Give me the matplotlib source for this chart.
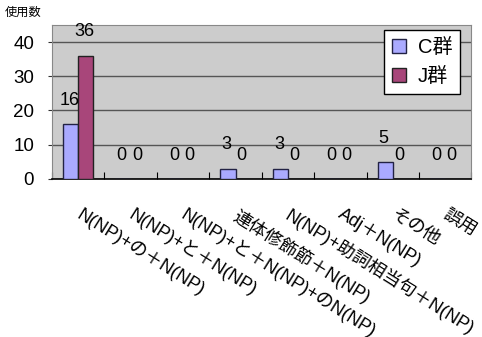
import matplotlib
matplotlib.use("Agg")
import matplotlib.pyplot as plt
import numpy as np
from matplotlib.patches import Patch
from matplotlib.transforms import offset_copy

plt.rcParams["font.family"] = ["Liberation Sans", "Noto Sans CJK JP", "DejaVu Sans"]

categories = [
    "N(NP)+の＋N(NP)",
    "N(NP)+と＋N(NP)",
    "N(NP)+と＋N(NP)+のN(NP)",
    "連体修飾節＋N(NP)",
    "N(NP)+助詞相当句＋N(NP)",
    "Adj＋N(NP)",
    "その他",
    "誤用",
]
c_counts = [16, 0, 0, 3, 3, 0, 5, 0]
j_counts = [36, 0, 0, 0, 0, 0, 0, 0]
series_names = ["C群", "J群"]
y_ticks = [0, 10, 20, 30, 40]

c_color = "#AAAAFF"
j_color = "#A8467A"

fig = plt.figure(figsize=(4.82, 3.37), dpi=100)
ax = fig.add_axes([0.108, 0.469, 0.870, 0.457])
ax.set_facecolor("#CCCCCC")

x = np.arange(len(categories))
width = 0.29
bars_c = ax.bar(x - width / 2, c_counts, width, color=c_color, edgecolor="#222244", linewidth=1.0, zorder=3)
bars_j = ax.bar(x + width / 2, j_counts, width, color=j_color, edgecolor="#222222", linewidth=1.0, zorder=3)

for bars, vals in ((bars_c, c_counts), (bars_j, j_counts)):
    for rect, v in zip(bars, vals):
        ax.annotate(str(v), (rect.get_x() + rect.get_width() / 2, v),
                    xytext=(-1, 11), textcoords="offset points",
                    ha="center", va="bottom", fontsize=13)

ax.set_xlim(-0.5, len(categories) - 0.5)
ax.set_ylim(0, 45)
ax.set_yticks(y_ticks)
ax.set_yticklabels([str(t) for t in y_ticks], fontsize=13.5)
ax.tick_params(axis="y", length=3, pad=10, color="#333333")
ax.set_xticks(np.arange(len(categories) + 1) - 0.5)
ax.set_xticklabels([])
ax.tick_params(axis="x", direction="in", length=5, color="#000000")

ax.grid(axis="y", color="#555555", linewidth=1.0, zorder=1)
for side in ("top", "right", "left"):
    ax.spines[side].set_color("#888888")
ax.spines["bottom"].set_color("#000000")
ax.spines["bottom"].set_linewidth(1.2)

# Category labels hang diagonally below the axis
for i, name in enumerate(categories):
    trans = offset_copy(ax.get_xaxis_transform(), fig=fig, x=4, y=-27, units="dots")
    ax.text(i, 0, name, transform=trans, rotation=-32, rotation_mode="anchor",
            ha="left", va="top", fontsize=13, clip_on=False)

fig.text(0.010, 0.945, "使用数", fontsize=8.8, ha="left", va="bottom")

handles = [Patch(facecolor=c_color, edgecolor="#222244"),
           Patch(facecolor=j_color, edgecolor="#222222")]
leg = ax.legend(handles, series_names, loc="upper right", bbox_to_anchor=(0.974, 0.968),
                fontsize=14.5, frameon=True, fancybox=False, framealpha=1,
                handlelength=0.7, handleheight=0.7, handletextpad=0.6,
                borderpad=0.4, labelspacing=0.5, borderaxespad=0)
leg.get_frame().set_edgecolor("#000000")
leg.get_frame().set_linewidth(1.0)
leg.set_zorder(5)

fig.savefig("out.png", dpi=100)
